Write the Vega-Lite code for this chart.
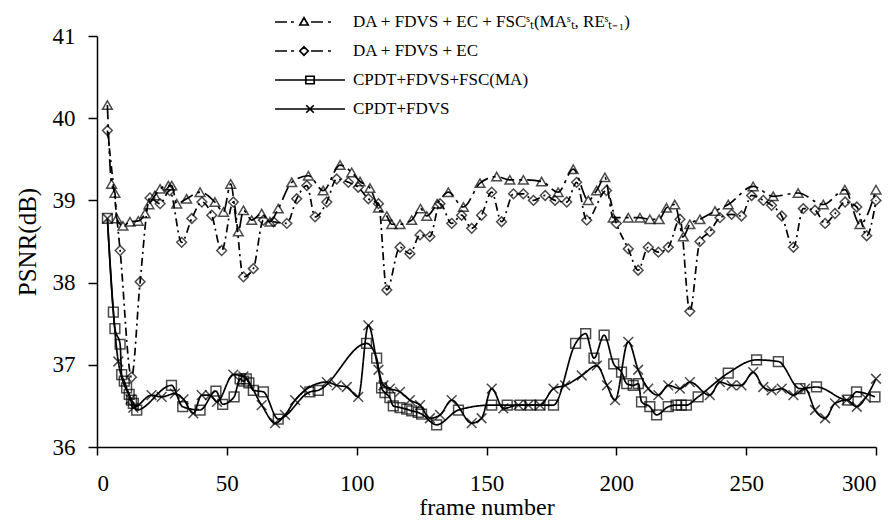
{
  "$schema": "https://vega.github.io/schema/vega-lite/v6.json",
  "width": 779,
  "height": 411,
  "autosize": {"type": "none"},
  "padding": {"left": 97, "top": 36, "right": 20, "bottom": 78},
  "background": "white",
  "data": {
    "values": [
      {"s":"A","f":4,"v":40.16},{"s":"A","f":5.6,"v":39.2},{"s":"A","f":6.9,"v":39.09},{"s":"A","f":7.6,"v":38.78},{"s":"A","f":10,"v":38.69},{"s":"A","f":12.7,"v":38.74},{"s":"A","f":15.9,"v":38.75},{"s":"A","f":18.5,"v":38.84},{"s":"A","f":20,"v":38.95},{"s":"A","f":22.3,"v":39.06},{"s":"A","f":24.3,"v":39.14},{"s":"A","f":27.5,"v":39.18},{"s":"A","f":28.8,"v":39.18},{"s":"A","f":30.7,"v":38.96},{"s":"A","f":34.5,"v":39.02},{"s":"A","f":39.7,"v":39.1},{"s":"A","f":45.4,"v":38.98},{"s":"A","f":48.7,"v":38.86},{"s":"A","f":51.5,"v":39.2},{"s":"A","f":54.4,"v":38.62},{"s":"A","f":56.4,"v":38.88},{"s":"A","f":59.6,"v":38.76},{"s":"A","f":63.4,"v":38.84},{"s":"A","f":66.6,"v":38.74},{"s":"A","f":69.8,"v":38.9},{"s":"A","f":75,"v":39.22},{"s":"A","f":81.4,"v":39.3},{"s":"A","f":87.1,"v":39.12},{"s":"A","f":93.6,"v":39.43},{"s":"A","f":98.1,"v":39.34},{"s":"A","f":101.3,"v":39.23},{"s":"A","f":105.1,"v":39.15},{"s":"A","f":108.4,"v":38.91},{"s":"A","f":111.6,"v":38.81},{"s":"A","f":113.5,"v":38.71},{"s":"A","f":116.7,"v":38.71},{"s":"A","f":121.2,"v":38.76},{"s":"A","f":124.6,"v":38.9},{"s":"A","f":127,"v":38.81},{"s":"A","f":131,"v":38.96},{"s":"A","f":135.3,"v":39.1},{"s":"A","f":141.1,"v":38.92},{"s":"A","f":147.5,"v":39.21},{"s":"A","f":153.9,"v":39.29},{"s":"A","f":159,"v":39.25},{"s":"A","f":164.2,"v":39.25},{"s":"A","f":171.2,"v":39.23},{"s":"A","f":177.6,"v":39.1},{"s":"A","f":183.4,"v":39.38},{"s":"A","f":189.2,"v":39.0},{"s":"A","f":192.4,"v":39.12},{"s":"A","f":195.6,"v":39.28},{"s":"A","f":198.8,"v":38.79},{"s":"A","f":204.6,"v":38.79},{"s":"A","f":209.1,"v":38.79},{"s":"A","f":212.9,"v":38.77},{"s":"A","f":216.5,"v":38.77},{"s":"A","f":219.3,"v":38.91},{"s":"A","f":222.5,"v":38.95},{"s":"A","f":225.8,"v":38.56},{"s":"A","f":228.3,"v":38.71},{"s":"A","f":232.2,"v":38.77},{"s":"A","f":238,"v":38.87},{"s":"A","f":243.1,"v":38.95},{"s":"A","f":252.7,"v":39.17},{"s":"A","f":260.4,"v":39.05},{"s":"A","f":270,"v":39.09},{"s":"A","f":279.7,"v":38.95},{"s":"A","f":288,"v":39.13},{"s":"A","f":293.8,"v":38.71},{"s":"A","f":300,"v":39.13},

      {"s":"B","f":4,"v":39.85},{"s":"B","f":8.9,"v":38.39},{"s":"B","f":13.3,"v":36.85},{"s":"B","f":16.6,"v":38.01},{"s":"B","f":20.4,"v":39.03},{"s":"B","f":24.3,"v":38.96},{"s":"B","f":28,"v":39.12},{"s":"B","f":32.6,"v":38.49},{"s":"B","f":36.5,"v":38.78},{"s":"B","f":40.4,"v":38.98},{"s":"B","f":44.2,"v":38.82},{"s":"B","f":48,"v":38.39},{"s":"B","f":52.5,"v":38.98},{"s":"B","f":56.4,"v":38.07},{"s":"B","f":60.2,"v":38.17},{"s":"B","f":64.1,"v":38.76},{"s":"B","f":68,"v":38.74},{"s":"B","f":73.1,"v":38.72},{"s":"B","f":76.9,"v":39.02},{"s":"B","f":80.8,"v":39.18},{"s":"B","f":84,"v":38.8},{"s":"B","f":88.5,"v":38.98},{"s":"B","f":92.3,"v":39.26},{"s":"B","f":96.8,"v":39.22},{"s":"B","f":100.6,"v":39.16},{"s":"B","f":104.5,"v":39.02},{"s":"B","f":108.4,"v":38.96},{"s":"B","f":111.6,"v":37.91},{"s":"B","f":116.7,"v":38.43},{"s":"B","f":120.5,"v":38.35},{"s":"B","f":124.4,"v":38.58},{"s":"B","f":128.2,"v":38.56},{"s":"B","f":132.1,"v":38.96},{"s":"B","f":136.6,"v":38.72},{"s":"B","f":140.4,"v":38.82},{"s":"B","f":144.3,"v":38.66},{"s":"B","f":148.1,"v":38.82},{"s":"B","f":152,"v":39.1},{"s":"B","f":155.8,"v":38.74},{"s":"B","f":160.4,"v":39.08},{"s":"B","f":164.2,"v":39.08},{"s":"B","f":168.1,"v":39.0},{"s":"B","f":172.6,"v":39.06},{"s":"B","f":176.4,"v":39.0},{"s":"B","f":180.9,"v":38.98},{"s":"B","f":184.7,"v":39.22},{"s":"B","f":188.6,"v":38.76},{"s":"B","f":196.2,"v":39.12},{"s":"B","f":200,"v":38.72},{"s":"B","f":204.6,"v":38.41},{"s":"B","f":208.4,"v":38.15},{"s":"B","f":212.3,"v":38.43},{"s":"B","f":216.2,"v":38.37},{"s":"B","f":220,"v":38.43},{"s":"B","f":224.5,"v":38.77},{"s":"B","f":228.3,"v":37.65},{"s":"B","f":232.2,"v":38.5},{"s":"B","f":236,"v":38.62},{"s":"B","f":239.9,"v":38.79},{"s":"B","f":244.4,"v":38.83},{"s":"B","f":248.2,"v":38.81},{"s":"B","f":252.1,"v":39.06},{"s":"B","f":256.6,"v":39.0},{"s":"B","f":259.8,"v":38.94},{"s":"B","f":263.7,"v":38.81},{"s":"B","f":268.2,"v":38.43},{"s":"B","f":272,"v":38.9},{"s":"B","f":276.5,"v":38.88},{"s":"B","f":280.4,"v":38.72},{"s":"B","f":284.2,"v":38.84},{"s":"B","f":288.1,"v":38.98},{"s":"B","f":292.6,"v":38.92},{"s":"B","f":296.4,"v":38.57},{"s":"B","f":300,"v":39.0},

      {"s":"C","f":4,"v":38.78},{"s":"C","f":6.3,"v":37.64},{"s":"C","f":6.9,"v":37.44},{"s":"C","f":8.9,"v":37.25},{"s":"C","f":9.5,"v":36.88},{"s":"C","f":10.5,"v":36.8},{"s":"C","f":11.4,"v":36.72},{"s":"C","f":12.4,"v":36.64},{"s":"C","f":13.3,"v":36.57},{"s":"C","f":14,"v":36.53},{"s":"C","f":15.3,"v":36.45},{"s":"C","f":28.7,"v":36.75},{"s":"C","f":33,"v":36.49},{"s":"C","f":39.7,"v":36.45},{"s":"C","f":45.8,"v":36.68},{"s":"C","f":48.4,"v":36.52},{"s":"C","f":52.8,"v":36.61},{"s":"C","f":55.1,"v":36.83},{"s":"C","f":56.5,"v":36.8},{"s":"C","f":57.5,"v":36.83},{"s":"C","f":58.5,"v":36.78},{"s":"C","f":60.2,"v":36.69},{"s":"C","f":64.1,"v":36.67},{"s":"C","f":69.8,"v":36.34},{"s":"C","f":82,"v":36.67},{"s":"C","f":85.2,"v":36.69},{"s":"C","f":103.8,"v":37.26},{"s":"C","f":107.7,"v":37.08},{"s":"C","f":109.6,"v":36.72},{"s":"C","f":110.9,"v":36.66},{"s":"C","f":112.8,"v":36.6},{"s":"C","f":114.1,"v":36.5},{"s":"C","f":116.7,"v":36.48},{"s":"C","f":119.3,"v":36.46},{"s":"C","f":121.2,"v":36.44},{"s":"C","f":123.7,"v":36.42},{"s":"C","f":125,"v":36.4},{"s":"C","f":130.8,"v":36.27},{"s":"C","f":139.2,"v":36.45},{"s":"C","f":152,"v":36.51},{"s":"C","f":158,"v":36.51},{"s":"C","f":163,"v":36.51},{"s":"C","f":167,"v":36.51},{"s":"C","f":170.6,"v":36.51},{"s":"C","f":175.8,"v":36.51},{"s":"C","f":184.3,"v":37.26},{"s":"C","f":188.2,"v":37.38},{"s":"C","f":191.4,"v":37.08},{"s":"C","f":195.3,"v":37.36},{"s":"C","f":199,"v":37.01},{"s":"C","f":202,"v":36.91},{"s":"C","f":204,"v":36.77},{"s":"C","f":206.5,"v":36.75},{"s":"C","f":208.5,"v":36.77},{"s":"C","f":209.7,"v":36.55},{"s":"C","f":212.9,"v":36.49},{"s":"C","f":215.5,"v":36.39},{"s":"C","f":220,"v":36.49},{"s":"C","f":223,"v":36.51},{"s":"C","f":225,"v":36.51},{"s":"C","f":227,"v":36.51},{"s":"C","f":231.5,"v":36.61},{"s":"C","f":243.1,"v":36.9},{"s":"C","f":254,"v":37.06},{"s":"C","f":262.4,"v":37.04},{"s":"C","f":270.7,"v":36.71},{"s":"C","f":277.1,"v":36.73},{"s":"C","f":289.3,"v":36.57},{"s":"C","f":292.5,"v":36.67},{"s":"C","f":299.6,"v":36.61},

      {"s":"D","f":4,"v":38.78},{"s":"D","f":8.2,"v":37.04},{"s":"D","f":12.9,"v":36.58},{"s":"D","f":14,"v":36.48},{"s":"D","f":21,"v":36.63},{"s":"D","f":24.9,"v":36.61},{"s":"D","f":30,"v":36.65},{"s":"D","f":33.3,"v":36.58},{"s":"D","f":37.1,"v":36.41},{"s":"D","f":40.3,"v":36.63},{"s":"D","f":43.5,"v":36.63},{"s":"D","f":46.2,"v":36.55},{"s":"D","f":52.5,"v":36.88},{"s":"D","f":56.4,"v":36.86},{"s":"D","f":63.4,"v":36.51},{"s":"D","f":68.6,"v":36.29},{"s":"D","f":72.4,"v":36.39},{"s":"D","f":76.3,"v":36.57},{"s":"D","f":80.1,"v":36.69},{"s":"D","f":88.5,"v":36.79},{"s":"D","f":92.3,"v":36.75},{"s":"D","f":96.2,"v":36.73},{"s":"D","f":100.6,"v":36.61},{"s":"D","f":104.5,"v":37.48},{"s":"D","f":108.4,"v":36.94},{"s":"D","f":110.3,"v":36.75},{"s":"D","f":112.8,"v":36.71},{"s":"D","f":116.7,"v":36.67},{"s":"D","f":120.5,"v":36.57},{"s":"D","f":124.4,"v":36.51},{"s":"D","f":128.2,"v":36.35},{"s":"D","f":132.1,"v":36.39},{"s":"D","f":136.6,"v":36.57},{"s":"D","f":144.3,"v":36.29},{"s":"D","f":148.1,"v":36.35},{"s":"D","f":152,"v":36.71},{"s":"D","f":156.5,"v":36.47},{"s":"D","f":162.3,"v":36.51},{"s":"D","f":166.1,"v":36.51},{"s":"D","f":170.6,"v":36.51},{"s":"D","f":175.8,"v":36.71},{"s":"D","f":180.3,"v":36.75},{"s":"D","f":186.7,"v":36.87},{"s":"D","f":192.5,"v":36.99},{"s":"D","f":196.4,"v":36.75},{"s":"D","f":199.5,"v":36.57},{"s":"D","f":204.6,"v":37.28},{"s":"D","f":208.4,"v":36.94},{"s":"D","f":212.3,"v":36.71},{"s":"D","f":216.2,"v":36.63},{"s":"D","f":220,"v":36.75},{"s":"D","f":224.5,"v":36.71},{"s":"D","f":228.3,"v":36.79},{"s":"D","f":236,"v":36.63},{"s":"D","f":239.9,"v":36.79},{"s":"D","f":244.4,"v":36.75},{"s":"D","f":248.2,"v":36.75},{"s":"D","f":252.7,"v":36.91},{"s":"D","f":256.6,"v":36.73},{"s":"D","f":259.8,"v":36.69},{"s":"D","f":263.7,"v":36.71},{"s":"D","f":268.2,"v":36.63},{"s":"D","f":272.7,"v":36.71},{"s":"D","f":276.5,"v":36.45},{"s":"D","f":280.4,"v":36.35},{"s":"D","f":284.2,"v":36.53},{"s":"D","f":288.7,"v":36.57},{"s":"D","f":292.6,"v":36.49},{"s":"D","f":296,"v":36.6},{"s":"D","f":300,"v":36.83}
    ]
  },
  "encoding": {
    "x": {
      "field": "f", "type": "quantitative",
      "scale": {"domain": [0, 300], "nice": false, "zero": false},
      "axis": {
        "values": [0, 50, 100, 150, 200, 250, 300],
        "title": "frame number",
        "grid": false,
        "tickSize": 8,
        "labelPadding": 17,
        "titlePadding": 0,
        "labelFont": "Liberation Serif, Times New Roman, serif",
        "titleFont": "Liberation Serif, Times New Roman, serif",
        "labelFontSize": 23,
        "titleFontSize": 24,
        "encode": {"ticks": {"update": {"y": {"value": -8}, "y2": {"value": 8}}}}
      }
    },
    "y": {
      "field": "v", "type": "quantitative",
      "scale": {"domain": [36, 41], "nice": false, "zero": false},
      "axis": {
        "values": [36, 37, 38, 39, 40, 41],
        "title": "PSNR(dB)",
        "grid": false,
        "tickSize": 9,
        "labelPadding": 13,
        "titlePadding": 12,
        "labelFont": "Liberation Serif, Times New Roman, serif",
        "titleFont": "Liberation Serif, Times New Roman, serif",
        "labelFontSize": 23,
        "titleFontSize": 25,
        "encode": {"ticks": {"update": {"x": {"value": 9}, "x2": {"value": -9}}}}
      }
    }
  },
  "layer": [
    {
      "mark": {"type": "line", "stroke": "black", "strokeWidth": 1.7, "interpolate": "monotone"},
      "encoding": {
        "strokeDash": {
          "field": "s", "type": "nominal",
          "scale": {"domain": ["A", "B", "C", "D"], "range": [[14, 5, 3, 5], [8, 4, 2, 4], [1, 0], [1, 0]]},
          "legend": null
        }
      }
    },
    {
      "mark": {"type": "point", "filled": false, "stroke": "black", "strokeWidth": 1.5, "size": 95},
      "encoding": {
        "shape": {
          "field": "s", "type": "nominal",
          "scale": {"domain": ["A", "B", "C", "D"], "range": ["triangle-up", "diamond", "square", "M-1,-1L1,1M-1,1L1,-1"]},
          "legend": null
        }
      }
    },
    {
      "mark": {"type": "point", "filled": false, "stroke": "black", "strokeWidth": 1.7, "opacity": 0, "size": 900},
      "encoding": {
        "shape": {
          "field": "s", "type": "nominal",
          "scale": {
            "domain": ["A", "B", "C", "D"],
            "range": [
              "M-2.333,0L-1.533,0M-1.267,0L-1.067,0M0.067,0L0.867,0M1.2,0L1.4,0M-0.4,-0.28L-0.12,0.2L-0.68,0.2Z",
              "M-2.333,0L-1.533,0M-1.267,0L-1.067,0M0.067,0L0.867,0M1.2,0L1.4,0M-0.4,-0.28L-0.12,0L-0.4,0.28L-0.68,0Z",
              "M-2.333,0L2.333,0M-0.28,-0.25L0.28,-0.25L0.28,0.25L-0.28,0.25Z",
              "M-2.333,0L2.333,0M-0.25,-0.25L0.25,0.25M-0.25,0.25L0.25,-0.25"
            ]
          },
          "legend": {
            "orient": "none",
            "legendX": 197,
            "legendY": -30,
            "direction": "vertical",
            "title": null,
            "padding": 0,
            "rowPadding": 5,
            "symbolSize": 900,
            "symbolOpacity": 1,
            "symbolStrokeWidth": 1.7,
            "symbolStrokeColor": "black",
            "symbolFillColor": "transparent",
            "labelFont": "Liberation Serif, Times New Roman, serif",
            "labelFontSize": 17,
            "labelColor": "black",
            "labelOffset": 27,
            "labelLimit": 0,
            "labelExpr": "datum.value == 'A' ? 'DA + FDVS + EC + FSCˢₜ(MAˢₜ, REˢₜ₋₁)' : datum.value == 'B' ? 'DA + FDVS + EC' : datum.value == 'C' ? 'CPDT+FDVS+FSC(MA)' : 'CPDT+FDVS'"
          }
        }
      }
    }
  ],
  "resolve": {"scale": {"shape": "independent"}, "legend": {"shape": "independent"}},
  "config": {
    "view": {"stroke": null},
    "font": "Liberation Serif, Times New Roman, serif",
    "axis": {
      "domainColor": "black",
      "domainWidth": 1.5,
      "tickColor": "black",
      "tickWidth": 1.5,
      "labelColor": "black",
      "titleColor": "black",
      "titleFontWeight": "normal"
    }
  }
}
